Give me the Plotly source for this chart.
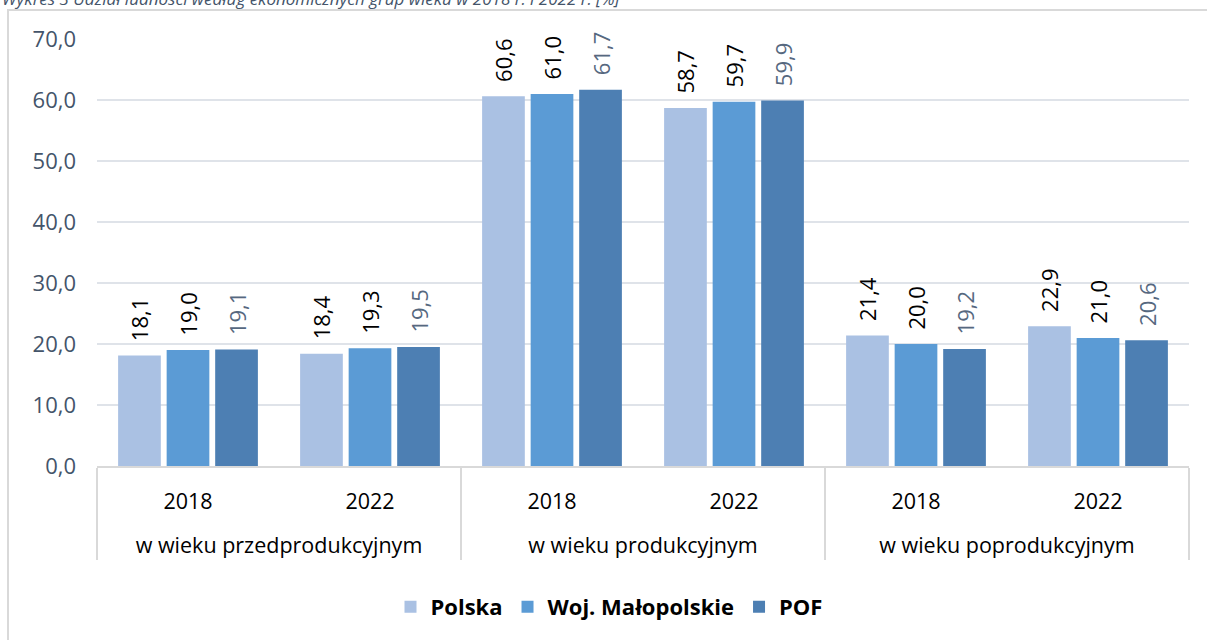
import plotly.graph_objects as go

groups = ["w wieku przedprodukcyjnym", "w wieku produkcyjnym", "w wieku poprodukcyjnym"]
years = ["2018", "2022"]
polska = [18.1, 18.4, 60.6, 58.7, 21.4, 22.9]
woj = [19.0, 19.3, 61.0, 59.7, 20.0, 21.0]
pof = [19.1, 19.5, 61.7, 59.9, 19.2, 20.6]
series_names = ["Polska", "Woj. Małopolskie", "POF"]
title_text = "Wykres 3 Udział ludności według ekonomicznych grup wieku w 2018 r. i 2022 r. [%]"

outer = ["\u00a0<br>" + g for g in groups for _ in years]
inner = [y for _ in groups for y in years]

colors = ["#aac1e3", "#5b9bd5", "#4d7fb3"]
label_colors = ["#000000", "#000000", "#56687f"]
FONT = "Open Sans"

fig = go.Figure()
for name, vals, c, lc in zip(series_names, [polska, woj, pof], colors, label_colors):
    fig.add_trace(go.Bar(
        x=[outer, inner], y=vals, name=name,
        marker=dict(color=c, line=dict(width=0)),
        text=["\u00a0\u00a0" + f"{v:.1f}".replace(".", ",") for v in vals],
        textposition="outside", textangle=-90, constraintext="none",
        textfont=dict(color=lc, size=22, family=FONT),
        cliponaxis=False,
    ))

W, H = 1207, 640
L, R, T, B = 97, 18, 39, 174
pw, ph = W - L - R, H - T - B
def px_x(x): return (x - L) / pw
def px_y(y): return (H - B - y) / ph

fig.update_layout(
    width=W, height=H,
    margin=dict(l=L, r=R, t=T, b=B),
    paper_bgcolor="white", plot_bgcolor="white",
    separators=", ",
    barmode="group", bargap=0.2, bargroupgap=0.12,
    font=dict(family=FONT, size=21, color="#000000"),
    showlegend=True,
    legend=dict(orientation="h", x=px_x(609), xanchor="center", y=px_y(607), yanchor="middle",
                font=dict(size=22, family=FONT, weight="bold"), itemwidth=30,
                traceorder="normal"),
    yaxis=dict(range=[0, 70], dtick=10, tickformat=".1f", showgrid=True,
               gridcolor="#dfe3e9", gridwidth=2, zeroline=False, automargin=False,
               tickfont=dict(size=22, color="#44546a", family=FONT), ticklabelstandoff=20),
    xaxis=dict(type="multicategory", showline=True, linecolor="#d9d9d9", linewidth=2,
               showdividers=True, dividercolor="#d9d9d9", dividerwidth=2, automargin=False,
               ticklabelstandoff=15,
               tickfont=dict(size=21.5, color="#000000", family=FONT)),
    shapes=[dict(type="rect", xref="paper", yref="paper",
                 x0=px_x(8), x1=px_x(1230), y0=px_y(700), y1=px_y(10),
                 line=dict(color="#d9d9d9", width=2), fillcolor="rgba(0,0,0,0)", layer="above")],
    annotations=[dict(text="<i>" + title_text + "</i>", xref="paper", yref="paper",
                      x=px_x(0), y=px_y(-1), xanchor="left", yanchor="middle",
                      showarrow=False, font=dict(size=17, color="#44546a", family=FONT))],
)

fig.write_html("out.html", config={"displayModeBar": False},
               post_script="document.body.style.margin='0';document.body.style.padding='0';")
